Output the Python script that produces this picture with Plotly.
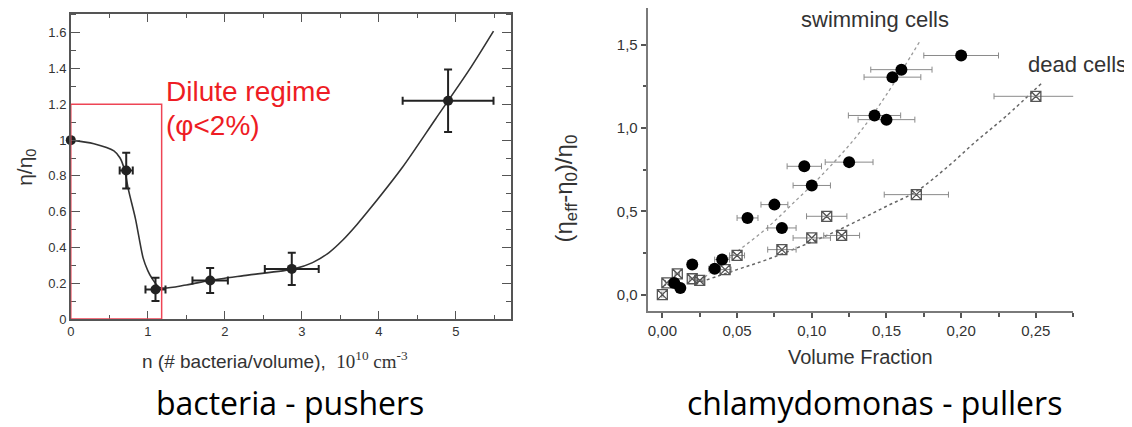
import plotly.graph_objects as go

# The page body has an 8px margin; the figure is sized/offset to compensate.
OFF = 8
FW, FH = 1124, 419

# ---------------- Left chart: bacteria (pushers) ----------------
bact_n = [0.0, 0.72, 1.10, 1.81, 2.87, 4.90]
bact_eta = [1.00, 0.83, 0.165, 0.215, 0.28, 1.22]
bact_n_err = [None, 0.085, 0.13, 0.23, 0.35, 0.59]
bact_eta_err = [None, 0.10, 0.065, 0.07, 0.09, 0.175]

bact_fit_n = [0.0, 0.30, 0.56, 0.64, 0.70, 0.75, 0.84, 0.94, 1.00, 1.05, 1.16,
              1.50, 1.80, 2.30, 2.90, 3.14, 3.35, 3.53, 3.72, 3.88, 4.31, 4.74, 5.17, 5.49]
bact_fit_eta = [1.00, 0.98, 0.94, 0.90, 0.83, 0.72, 0.56, 0.34, 0.27, 0.23, 0.175,
                0.19, 0.215, 0.245, 0.28, 0.315, 0.37, 0.44, 0.53, 0.613, 0.85, 1.12, 1.39, 1.61]

left_xticks = [0, 1, 2, 3, 4, 5]
left_xlabels = ["0", "1", "2", "3", "4", "5"]
left_yticks = [0, 0.2, 0.4, 0.6, 0.8, 1.0, 1.2, 1.4, 1.6]
left_ylabels = ["0", "0.2", "0.4", "0.6", "0.8", "1", "1.2", "1.4", "1.6"]

dilute_n_max = 1.18
dilute_eta_max = 1.2

# ---------------- Right chart: chlamydomonas (pullers) ----------------
swim_phi = [0.008, 0.012, 0.020, 0.035, 0.040, 0.057, 0.075, 0.080, 0.095, 0.100,
            0.125, 0.142, 0.150, 0.154, 0.160, 0.200]
swim_eta = [0.07, 0.04, 0.18, 0.155, 0.21, 0.46, 0.54, 0.40, 0.77, 0.655,
            0.795, 1.075, 1.05, 1.305, 1.35, 1.435]
swim_err = [0.001, 0.0015, 0.0025, 0.004, 0.005, 0.007, 0.009, 0.0095, 0.0115, 0.0125,
            0.016, 0.0175, 0.019, 0.019, 0.0205, 0.025]

dead_phi = [0.000, 0.003, 0.010, 0.020, 0.025, 0.042, 0.050, 0.080, 0.100, 0.110,
            0.120, 0.170, 0.250]
dead_eta = [0.00, 0.07, 0.125, 0.095, 0.085, 0.15, 0.235, 0.27, 0.34, 0.47,
            0.355, 0.60, 1.19]
dead_err = [0.0005, 0.001, 0.0015, 0.002, 0.0025, 0.004, 0.005, 0.0095, 0.0125, 0.0135,
            0.012, 0.0215, 0.028]

swim_fit_phi = [0.022, 0.046, 0.070, 0.090, 0.106, 0.130, 0.150, 0.173]
swim_fit_eta = [0.06, 0.23, 0.40, 0.57, 0.71, 0.95, 1.20, 1.53]
dead_fit_phi = [0.022, 0.050, 0.070, 0.090, 0.110, 0.130, 0.150, 0.170, 0.190, 0.210, 0.230, 0.254]
dead_fit_eta = [0.065, 0.15, 0.21, 0.28, 0.355, 0.44, 0.53, 0.62, 0.76, 0.92, 1.07, 1.27]

right_xticks = [0.00, 0.05, 0.10, 0.15, 0.20, 0.25]
right_xlabels = ["0,00", "0,05", "0,10", "0,15", "0,20", "0,25"]
right_yticks = [0.0, 0.5, 1.0, 1.5]
right_ylabels = ["0,0", "0,5", "1,0", "1,5"]

ARIAL = "Arial, Liberation Sans, sans-serif"
CAPTION = "Open Sans, Lato, sans-serif"


def px(x):
    return (x - OFF) / FW


def py(y):
    return 1 - (y - OFF) / FH


fig = go.Figure()

# Left fit curve
fig.add_trace(go.Scatter(
    x=bact_fit_n, y=bact_fit_eta, mode="lines",
    line=dict(color="#333333", width=1.6, shape="spline", smoothing=0.8),
    xaxis="x", yaxis="y", hoverinfo="skip", cliponaxis=False))
# Left data
fig.add_trace(go.Scatter(
    x=bact_n, y=bact_eta, mode="markers",
    marker=dict(color="#222222", size=10),
    error_x=dict(type="data", array=bact_n_err, color="#222222", thickness=2, width=4),
    error_y=dict(type="data", array=bact_eta_err, color="#222222", thickness=2, width=4),
    xaxis="x", yaxis="y", cliponaxis=False))

# Right fit curves
fig.add_trace(go.Scatter(
    x=swim_fit_phi, y=swim_fit_eta, mode="lines",
    line=dict(color="#999999", width=1.3, dash="dot", shape="spline"),
    xaxis="x2", yaxis="y2", hoverinfo="skip"))
fig.add_trace(go.Scatter(
    x=dead_fit_phi, y=dead_fit_eta, mode="lines",
    line=dict(color="#666666", width=1.5, dash="dot", shape="spline"),
    xaxis="x2", yaxis="y2", hoverinfo="skip"))
# Right data
fig.add_trace(go.Scatter(
    x=dead_phi, y=dead_eta, mode="markers",
    marker=dict(symbol="square-x-open", color="#555555", size=10, line=dict(width=1.3)),
    error_x=dict(type="data", array=dead_err, color="#8a8a8a", thickness=1, width=3),
    xaxis="x2", yaxis="y2"))
fig.add_trace(go.Scatter(
    x=swim_phi, y=swim_eta, mode="markers",
    marker=dict(color="#000000", size=12),
    error_x=dict(type="data", array=swim_err, color="#8a8a8a", thickness=1, width=3),
    xaxis="x2", yaxis="y2"))

left_axis_common = dict(
    showline=True, linecolor="#555555", linewidth=1.5, mirror="allticks",
    ticks="inside", tickcolor="#555555", tickwidth=1.2, showgrid=False, zeroline=False,
    tickfont=dict(family=ARIAL, size=13, color="#333333"), tickmode="array",
)
right_axis_common = dict(
    showline=True, linecolor="#7a7a7a", linewidth=2, mirror=False,
    ticks="outside", tickcolor="#555555", tickwidth=1.5, ticklen=5, showgrid=False, zeroline=False,
    tickfont=dict(family=ARIAL, size=15, color="#333333"), tickmode="array",
)

fig.update_layout(
    width=FW, height=FH,
    margin=dict(l=0, r=0, t=0, b=0),
    paper_bgcolor="white", plot_bgcolor="white",
    showlegend=False,
    xaxis=dict(domain=[px(67), px(509)], range=[0, 5.72], anchor="y",
               tickvals=left_xticks, ticktext=left_xlabels, ticklen=8,
               minor=dict(ticks="inside", ticklen=4, dtick=0.5, tick0=0, tickcolor="#555555"),
               **left_axis_common),
    yaxis=dict(domain=[py(325), py(14)], range=[0, 1.706], anchor="x",
               tickvals=left_yticks, ticktext=left_ylabels, ticklen=9,
               minor=dict(ticks="inside", ticklen=5, dtick=0.1, tick0=0, tickcolor="#555555"),
               **left_axis_common),
    xaxis2=dict(domain=[px(646), px(1073)], range=[-0.0098, 0.275], anchor="y2",
                tickvals=right_xticks, ticktext=right_xlabels,
                minor=dict(ticks="outside", ticklen=4, dtick=0.025, tick0=0, tickcolor="#555555"),
                **right_axis_common),
    yaxis2=dict(domain=[py(317), py(8)], range=[-0.099, 1.72], anchor="x2",
                tickvals=right_yticks, ticktext=right_ylabels,
                minor=dict(ticks="outside", ticklen=3, dtick=0.25, tick0=0, tickcolor="#555555"),
                **right_axis_common),
)

# Dilute regime box
fig.add_shape(type="rect", xref="x", yref="y", x0=0, x1=dilute_n_max, y0=0, y1=dilute_eta_max,
              line=dict(color="#ee4455", width=1.5), layer="above")

annots = [
    dict(x=px(161), y=py(93), text="Dilute regime", xanchor="left", yanchor="middle",
         font=dict(family=ARIAL, size=28, color="#ee1c24")),
    dict(x=px(161), y=py(128), text="(φ<2%)", xanchor="left", yanchor="middle",
         font=dict(family=ARIAL, size=28, color="#ee1c24")),
    dict(x=px(22), y=py(170), text="η/η<sub>0</sub>", textangle=-90, xanchor="center", yanchor="middle",
         font=dict(family=ARIAL, size=21, color="#333333")),
    dict(x=px(272), y=py(367),
         text="n (# bacteria/volume),  <span style='font-family:Liberation Serif, Times New Roman, serif'>10<sup>10</sup> cm<sup>-3</sup></span>",
         xanchor="center", yanchor="middle", font=dict(family=ARIAL, size=19, color="#333333")),
    dict(x=px(563), y=py(192), text="(η<sub>eff</sub>-η<sub>0</sub>)/η<sub>0</sub>", textangle=-90,
         xanchor="center", yanchor="middle", font=dict(family=ARIAL, size=24, color="#333333")),
    dict(x=px(860), y=py(364), text="Volume Fraction", xanchor="center", yanchor="middle",
         font=dict(family=ARIAL, size=20, color="#333333")),
    dict(x=px(798), y=py(20), text="swimming cells", xanchor="left", yanchor="middle",
         font=dict(family=ARIAL, size=22, color="#333333")),
    dict(x=px(1026), y=py(66), text="dead cells", xanchor="left", yanchor="middle",
         font=dict(family=ARIAL, size=22, color="#333333")),
    dict(x=px(287), y=py(410), text="bacteria - pushers", xanchor="center", yanchor="middle",
         font=dict(family=CAPTION, size=32, color="#000000")),
    dict(x=px(874), y=py(410), text="chlamydomonas - pullers", xanchor="center", yanchor="middle",
         font=dict(family=CAPTION, size=32, color="#000000")),
]
for a in annots:
    a.update(xref="paper", yref="paper", showarrow=False)
    fig.add_annotation(**a)

fig.write_html("out.html")
